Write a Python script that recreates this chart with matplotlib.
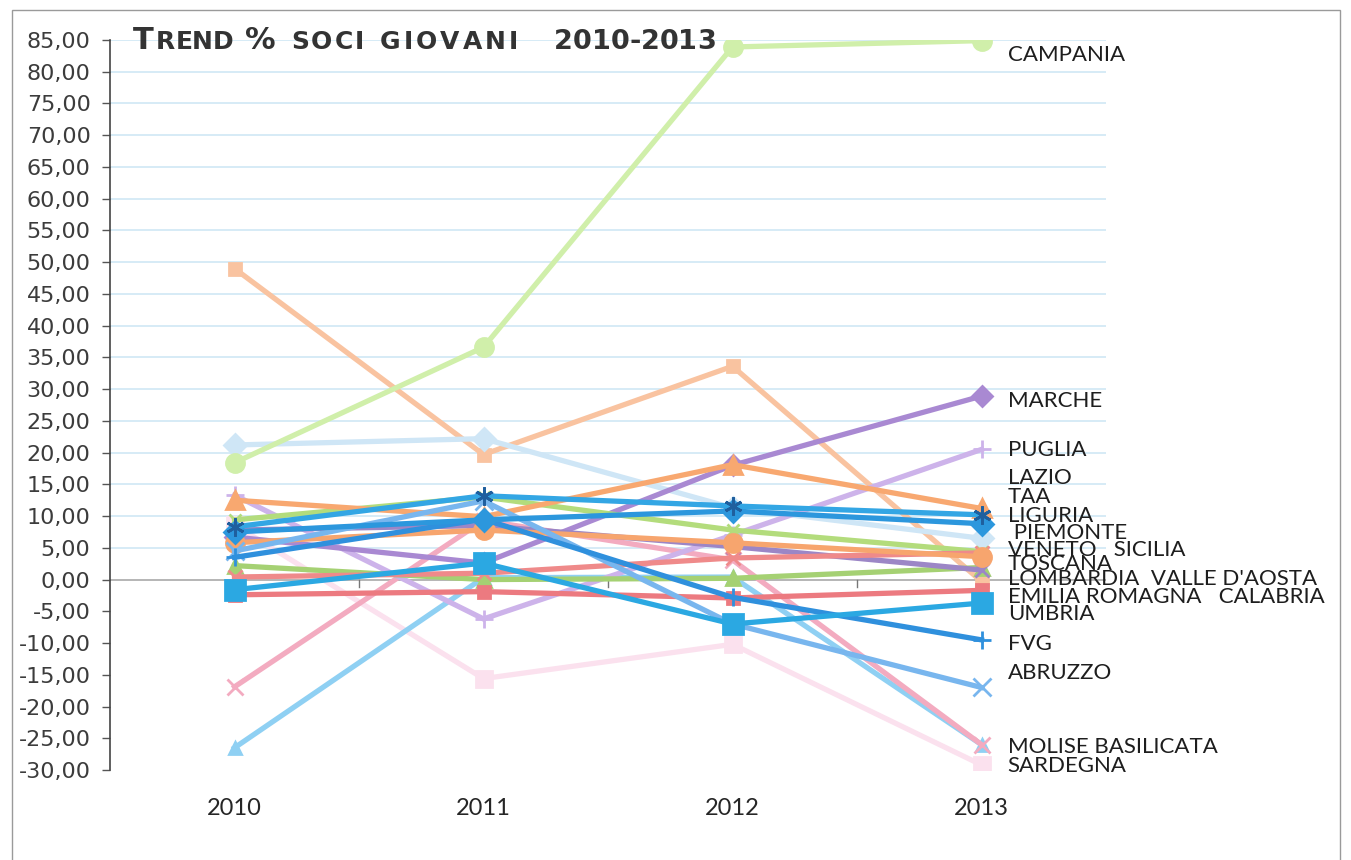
import matplotlib
matplotlib.use('Agg')
import matplotlib.pyplot as plt
from matplotlib.patches import Rectangle

W, H = 1351, 860

anni = ['2010', '2011', '2012', '2013']

# valori % soci giovani per regione
campania = [18.4, 36.6, 83.9, 84.9]
marche = [6.7, 2.6, 18.0, 28.9]
puglia = [13.3, -6.2, 7.0, 20.5]
lazio = [12.5, 9.9, 18.1, 11.2]
taa = [8.3, 13.2, 11.6, 10.2]
liguria = [7.5, 9.4, 10.8, 8.8]
piemonte = [21.2, 22.2, 11.3, 6.5]
veneto = [9.4, 13.0, 7.8, 4.4]
sicilia = [0.4, 1.0, 3.4, 4.2]
toscana = [5.8, 7.8, 5.8, 3.6]
lombardia = [7.8, 8.5, 5.2, 1.5]
valle_aosta = [2.2, 0.0, 0.2, 1.9]
emilia_romagna = [-2.4, -1.9, -2.9, -1.7]
calabria = [49.0, 19.7, 33.6, -0.3]
umbria = [-1.6, 2.6, -7.0, -3.7]
fvg = [3.5, 9.5, -2.8, -9.5]
abruzzo = [4.5, 12.4, -7.0, -17.0]
molise = [-16.9, 9.3, 3.1, -26.0]
basilicata = [-26.5, 0.3, 0.4, -26.0]
sardegna = [8.6, -15.6, -10.2, -29.2]

# etichette a destra (testo, y in unita' del grafico)
etichette = ['CAMPANIA', 'MARCHE', 'PUGLIA', 'LAZIO', 'TAA', 'LIGURIA', ' PIEMONTE',
             'VENETO   SICILIA', 'TOSCANA', 'LOMBARDIA  VALLE D\'AOSTA',
             'EMILIA ROMAGNA   CALABRIA', 'UMBRIA', 'FVG', 'ABRUZZO',
             'MOLISE BASILICATA', 'SARDEGNA']
etichette_y = [82.6, 28.1, 20.4, 16.0, 13.0, 10.0, 7.3, 4.7, 2.5, 0.1,
               -2.7, -5.4, -10.1, -14.7, -26.4, -29.4]

serie = [
    ('SARDEGNA', sardegna, '#fbe1ee', 's', 11),
    ('CALABRIA', calabria, '#f9c3a0', 's', 9),
    ('PIEMONTE', piemonte, '#cfe6f6', 'D', 11),
    ('CAMPANIA', campania, '#d0efaa', 'o', 13),
    ('BASILICATA', basilicata, '#8fd0f3', '^', 8),
    ('MOLISE', molise, '#f3abc0', 'x', 11),
    ('PUGLIA', puglia, '#cdb3ea', '+', 13),
    ('MARCHE', marche, '#a989d2', 'D', 10),
    ('VALLE D\'AOSTA', valle_aosta, '#a5d173', '^', 10),
    ('VENETO', veneto, '#b3dc7c', 'x', 9),
    ('LOMBARDIA', lombardia, '#9c86c6', 'x', 10),
    ('EMILIA ROMAGNA', emilia_romagna, '#ec7a80', 's', 9),
    ('SICILIA', sicilia, '#ef8a8a', 'x', 10),
    ('TOSCANA', toscana, '#f7a56e', 'o', 13),
    ('LAZIO', lazio, '#f8a870', '^', 13),
    ('ABRUZZO', abruzzo, '#78b6ee', 'x', 13),
    ('FVG', fvg, '#2f90dd', '+', 13),
    ('UMBRIA', umbria, '#2ba8e2', 's', 15),
    ('LIGURIA', liguria, '#2c97dd', 'D', 11),
    ('TAA', taa, '#33a6e4', (6, 2, 0), 13),
]

fig = plt.figure(figsize=(W / 100, H / 100), dpi=100)
ax = fig.add_axes([110 / W, 1 - 770 / H, 996 / W, 730 / H])

x = list(range(len(anni)))

# griglia orizzontale
for v in range(5, 90, 5):
    ax.axhline(v, color='#cbe5f4', lw=1.1, zorder=0)
ax.axhline(0, color='#a9a9a9', lw=1.2, zorder=0)

for nome, valori, colore, marker, ms in serie:
    mec = '#1f5f9e' if nome == 'TAA' else colore
    ax.plot(x, valori, color=colore, lw=3.8, marker=marker, ms=ms,
            mec=mec, mfc=colore, mew=2, solid_joinstyle='miter', zorder=2)

ax.set_xlim(-0.5, 3.5)
ax.set_ylim(-30, 85)
ax.set_yticks(range(-30, 90, 5))
ax.set_yticklabels([f'{v:.2f}'.replace('.', ',') for v in range(-30, 90, 5)],
                   fontsize=16, color='#3c3c3c', family='DejaVu Sans')
ax.set_xticks(x)
ax.set_xticklabels(anni, fontsize=17, color='#262626', family='Lato')
ax.tick_params(axis='x', length=0, pad=20)
ax.tick_params(axis='y', length=6, width=1, color='#555555', pad=8)

# trattini tra le categorie sull'asse dello zero
for b in [0.5, 1.5, 2.5]:
    ax.plot([b, b], [0, -1.2], color='#777777', lw=1, zorder=1)

for s in ['top', 'right', 'bottom']:
    ax.spines[s].set_visible(False)
ax.spines['left'].set_color('#444444')
ax.spines['left'].set_linewidth(1.2)

for testo, yy in zip(etichette, etichette_y):
    ax.text(3.105, yy, testo, fontsize=16, family='Lato', color='#1e1e1e',
            va='center', ha='left', clip_on=False)

# titolo in maiuscoletto: (testo, dimensione, x iniziale in pixel, spaziatura lettere)
r = fig.canvas.get_renderer()
pezzi = [('T', 22, 133, 0), ('REND', 18, 156, 0), ('%', 22, 245, 0),
         ('SOCI', 18, 291, 2), ('GIOVANI', 18, 380, 3), ('2010-2013', 19.5, 554, 0)]
for testo, dim, px, spazio in pezzi:
    for c in testo:
        t = fig.text(px / W, 1 - 49 / H, c, fontsize=dim, fontweight='bold',
                     family='DejaVu Sans', color='#333333', va='baseline')
        px = t.get_window_extent(renderer=r).x1 + spazio

# cornice esterna
fig.patches.append(Rectangle((12 / W, -10 / H), 1328 / W, 860 / H, transform=fig.transFigure,
                             fill=False, ec='#9a9a9a', lw=1))

fig.savefig('out.png', dpi=100)
